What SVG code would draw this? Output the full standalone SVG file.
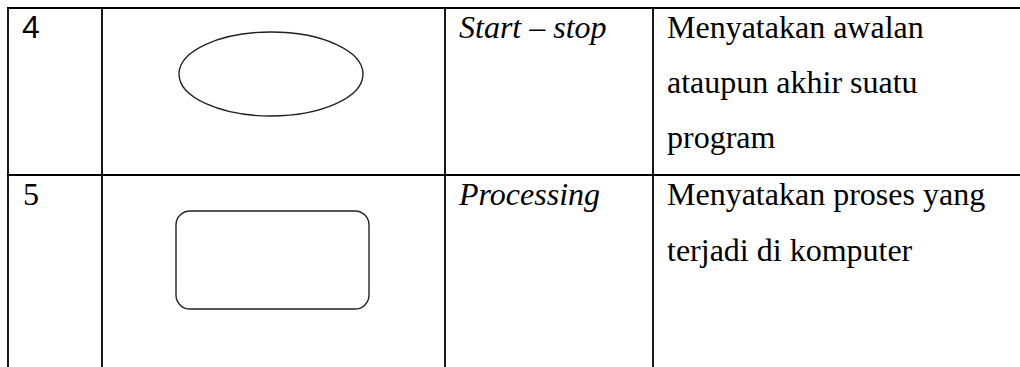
<svg xmlns="http://www.w3.org/2000/svg" width="1020" height="367" viewBox="0 0 1020 367">
  <style>
    .grid { stroke: #000; stroke-width: 1.8; fill: none; }
    .shape { stroke: #222; stroke-width: 1.4; fill: none; }
    .txt { font-family: 'Liberation Serif', Tinos, 'Times New Roman', 'DejaVu Serif', serif; font-size: 32px; fill: #000; }
    .num4 { font-family: 'Liberation Sans', Arial, sans-serif; font-size: 32px; fill: #000; }
    .it { font-style: italic; }
  </style>
  <rect width="1020" height="367" fill="#fff"/>

  <!-- table rules -->
  <g id="table-grid" class="grid">
    <line x1="7" y1="8" x2="1020" y2="8"/>
    <line x1="7" y1="175" x2="1020" y2="175"/>
    <line x1="8" y1="7" x2="8" y2="367"/>
    <line x1="102" y1="7" x2="102" y2="367"/>
    <line x1="445" y1="7" x2="445" y2="367"/>
    <line x1="653" y1="7" x2="653" y2="367"/>
  </g>

  <!-- row 4: terminator symbol -->
  <g id="row-4">
    <text class="num4" x="22" y="38">4</text>
    <ellipse id="symbol-terminator" class="shape" cx="271" cy="74" rx="92" ry="42"/>
    <text class="txt it" x="459" y="38">Start – stop</text>
    <text class="txt" x="667" y="38">Menyatakan awalan</text>
    <text class="txt" x="667" y="93">ataupun akhir suatu</text>
    <text class="txt" x="667" y="148">program</text>
  </g>

  <!-- row 5: process symbol -->
  <g id="row-5">
    <text class="txt" x="23" y="205">5</text>
    <rect id="symbol-process" class="shape" x="176" y="211" width="193" height="98" rx="14" ry="14"/>
    <text class="txt it" x="459" y="205">Processing</text>
    <text class="txt" x="667" y="205">Menyatakan proses yang</text>
    <text class="txt" x="667" y="261">terjadi di komputer</text>
  </g>
</svg>
